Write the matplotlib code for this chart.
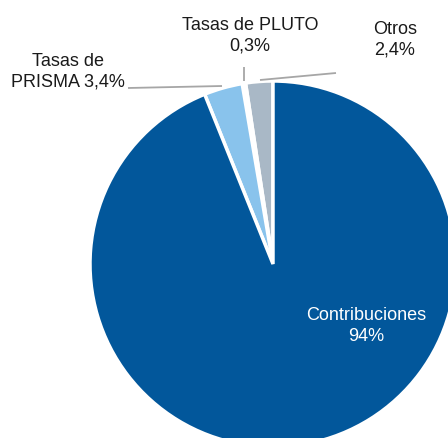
import matplotlib
matplotlib.use("Agg")
import matplotlib.pyplot as plt

# Data (counterclockwise from 12 o'clock)
categories = ["Otros", "Tasas de PLUTO", "Tasas de PRISMA", "Contribuciones"]
values = [2.4, 0.3, 3.4, 94]
value_labels = ["2,4%", "0,3%", "3,4%", "94%"]
colors = ["#A9B8C6", "#FFFFFF", "#89C3EC", "#02579B"]

W, H = 448, 439
fig = plt.figure(figsize=(W / 100, H / 100), dpi=100)
ax = fig.add_axes([0, 0, 1, 1])

def P(y):  # pixel row -> data y
    return H - y

ax.pie(values, colors=colors, startangle=90, counterclock=True,
       radius=183, center=(273, P(265)),
       wedgeprops=dict(edgecolor="white", linewidth=2.5))
ax.set_xlim(0, W)
ax.set_ylim(0, H)
ax.axis("off")

fam = ["Liberation Sans", "DejaVu Sans"]
fs = 13
ls = 1.3
lc = "#A6A6A6"

# leader lines
ax.plot([128, 222], [P(89), P(87)], color=lc, lw=1.3, solid_capstyle="butt")
ax.plot([244, 244], [P(68), P(82)], color=lc, lw=1.3, solid_capstyle="butt")
ax.plot([260, 336], [P(81), P(74)], color=lc, lw=1.3, solid_capstyle="butt")

ax.text(68, P(72), f"Tasas de\nPRISMA {value_labels[2]}", ha="center", va="center",
        fontsize=fs, family=fam, color="#1A1A1A", linespacing=ls)
ax.text(250, P(36), f"{categories[1]}\n{value_labels[1]}", ha="center", va="center",
        fontsize=fs, family=fam, color="#1A1A1A", linespacing=ls)
ax.text(395, P(40), f"{categories[0]}\n{value_labels[0]}", ha="center", va="center",
        fontsize=fs, family=fam, color="#1A1A1A", linespacing=ls)
ax.text(366, P(326), f"{categories[3]}\n{value_labels[3]}", ha="center", va="center",
        fontsize=fs, family=fam, color="white", linespacing=ls)

fig.savefig("out.png", dpi=100)
